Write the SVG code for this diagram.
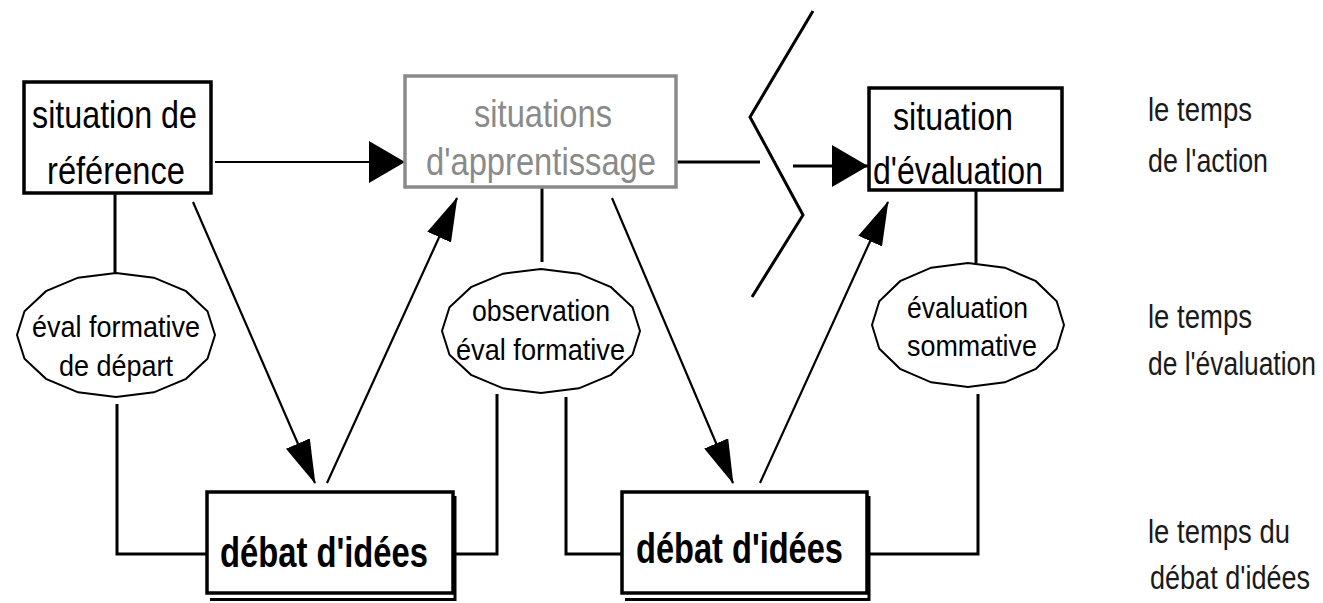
<svg xmlns="http://www.w3.org/2000/svg" width="1323" height="603" viewBox="0 0 1323 603">
<defs>
<style>
text{font-family:"Liberation Sans",Arial,sans-serif;fill:#000}
.t36{font-size:39px}
.t27{font-size:29px}
.t32{font-size:33px;fill:#1a1a1a}
.bold{font-size:43px;font-weight:bold}
.gray{fill:#8a8a8a}
.box{fill:#fff;stroke:#000;stroke-width:3.5}
.gbox{fill:#fff;stroke:#8a8a8a;stroke-width:3.5}
.ell{fill:#fff;stroke:#000;stroke-width:2}
.ln{fill:none;stroke:#000;stroke-width:3}
.arr{fill:none;stroke:#000;stroke-width:2.2}
</style>
<marker id="hh" markerUnits="userSpaceOnUse" markerWidth="36" markerHeight="42" refX="36" refY="21" orient="auto"><path d="M0,0 L36,21 L0,42 z" fill="#000"/></marker>
<marker id="hd" markerUnits="userSpaceOnUse" markerWidth="44" markerHeight="26" refX="43" refY="13" orient="auto"><path d="M0,0 L44,13 L0,26 z" fill="#000"/></marker>
</defs>
<rect width="1323" height="603" fill="#fff"/>

<g id="connectors">
<line class="arr" x1="215" y1="162" x2="405" y2="162" marker-end="url(#hh)"/>
<line class="ln" x1="676" y1="162" x2="760" y2="162"/>
<line class="ln" x1="793" y1="166" x2="868" y2="166" stroke-width="4.5" marker-end="url(#hh)"/>
<line class="arr" x1="193" y1="202" x2="315" y2="483" marker-end="url(#hd)"/>
<line class="arr" x1="327" y1="483" x2="457" y2="198" marker-end="url(#hd)"/>
<line class="arr" x1="612" y1="198" x2="733" y2="483" marker-end="url(#hd)"/>
<line class="arr" x1="760" y1="483" x2="888" y2="202" marker-end="url(#hd)"/>
<line class="ln" x1="115" y1="193" x2="115" y2="273"/>
<polyline class="ln" points="117,404 117,554 207,554"/>
<line class="ln" x1="542" y1="187" x2="542" y2="262"/>
<polyline class="ln" points="497,394 497,554 453,554" stroke-width="1.6" stroke="#444"/>
<polyline class="ln" points="566,397 566,554 622,554"/>
<line class="ln" x1="976" y1="190" x2="976" y2="263"/>
<polyline class="ln" points="978,394 978,554 868,554"/>
<polyline class="ln" points="813,11 750,117 803,215 752,297" stroke-width="5"/>
</g>

<g id="situation-reference">
<rect class="box" x="24" y="82" width="187" height="111"/>
<text class="t36" x="32" y="128" textLength="165" lengthAdjust="spacingAndGlyphs">situation de</text>
<text class="t36" x="47" y="184" textLength="138" lengthAdjust="spacingAndGlyphs">référence</text>
</g>

<g id="situations-apprentissage">
<rect class="gbox" x="405" y="76" width="271" height="111"/>
<text class="t36 gray" x="474" y="127" textLength="138" lengthAdjust="spacingAndGlyphs">situations</text>
<text class="t36 gray" x="426" y="175" textLength="230" lengthAdjust="spacingAndGlyphs">d'apprentissage</text>
</g>

<g id="situation-evaluation">
<rect class="box" x="869" y="88" width="193" height="102"/>
<text class="t36" x="893" y="130" textLength="120" lengthAdjust="spacingAndGlyphs">situation</text>
<text class="t36" x="873" y="184" textLength="170" lengthAdjust="spacingAndGlyphs">d'évaluation</text>
</g>

<g id="eval-formative-depart">
<polygon class="ell" points="116,273 153.9,277.7 186,291.2 207.5,311.3 215,335 207.5,358.7 186,378.8 153.9,392.3 116,397 78.1,392.3 46,378.8 24.5,358.7 17,335 24.5,311.3 46,291.2 78.1,277.7"/>
<text class="t27" x="32" y="337" textLength="168" lengthAdjust="spacingAndGlyphs">éval formative</text>
<text class="t27" x="59" y="376" textLength="114" lengthAdjust="spacingAndGlyphs">de départ</text>
</g>

<g id="observation">
<polygon class="ell" points="541,269 578.9,273.7 611,287.2 632.5,307.3 640,331 632.5,354.7 611,374.8 578.9,388.3 541,393 503.1,388.3 471,374.8 449.5,354.7 442,331 449.5,307.3 471,287.2 503.1,273.7"/>
<text class="t27" x="472" y="321" textLength="138" lengthAdjust="spacingAndGlyphs">observation</text>
<text class="t27" x="456" y="360" textLength="169" lengthAdjust="spacingAndGlyphs">éval formative</text>
</g>

<g id="evaluation-sommative">
<polygon class="ell" points="968,263 1004.8,267.7 1035.9,281.2 1056.7,301.3 1064,325 1056.7,348.7 1035.9,368.8 1004.8,382.3 968,387 931.2,382.3 900.1,368.8 879.3,348.7 872,325 879.3,301.3 900.1,281.2 931.2,267.7"/>
<text class="t27" x="907" y="318" textLength="121" lengthAdjust="spacingAndGlyphs">évaluation</text>
<text class="t27" x="907" y="356" textLength="130" lengthAdjust="spacingAndGlyphs">sommative</text>
</g>

<g id="debat-1">
<polyline class="ln" points="210,599.5 455,599.5 455,496" stroke-width="4"/>
<rect class="box" x="207" y="492" width="246" height="101"/>
<text class="bold" x="220" y="567" textLength="208" lengthAdjust="spacingAndGlyphs">débat d'idées</text>
</g>

<g id="debat-2">
<polyline class="ln" points="625,599.5 869,599.5 869,496" stroke-width="4"/>
<rect class="box" x="622" y="492" width="245" height="101"/>
<text class="bold" x="636" y="563" textLength="207" lengthAdjust="spacingAndGlyphs">débat d'idées</text>
</g>

<g id="labels">
<text class="t32" x="1148" y="121" textLength="104" lengthAdjust="spacingAndGlyphs">le temps</text>
<text class="t32" x="1148" y="172" textLength="120" lengthAdjust="spacingAndGlyphs">de l'action</text>
<text class="t32" x="1148" y="328" textLength="104" lengthAdjust="spacingAndGlyphs">le temps</text>
<text class="t32" transform="translate(1148,375) scale(0.8,1)" x="0" y="0">de l'évaluation</text>
<text class="t32" x="1148" y="543" textLength="142" lengthAdjust="spacingAndGlyphs">le temps du</text>
<text class="t32" transform="translate(1150,589) scale(0.82,1)" x="0" y="0">débat d'idées</text>
</g>
</svg>
